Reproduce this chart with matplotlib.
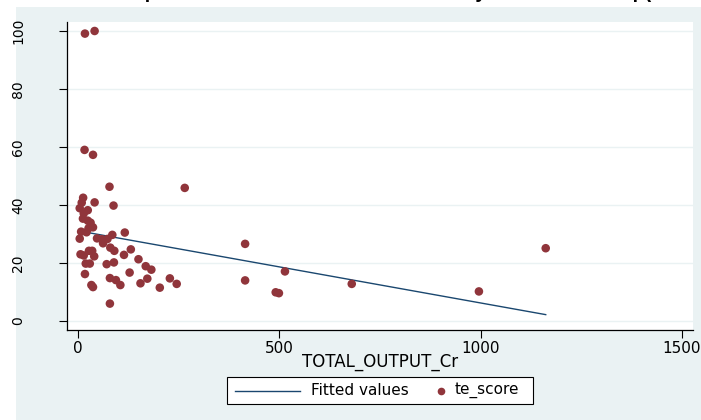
import matplotlib
matplotlib.use("Agg")
import matplotlib.pyplot as plt
from matplotlib.patches import Rectangle
from matplotlib.lines import Line2D

plt.rcParams['font.family'] = ['DejaVu Sans']

# ---- data ----
total_output = [17, 41, 16, 37, 78, 265, 12.5, 9, 41, 88, 4, 24, 14, 12, 24, 31, 37, 26,
                7.5, 21, 116, 85, 4, 47, 59, 73, 62, 80, 90, 131, 6, 27, 35, 14, 40, 114,
                150, 415, 19, 29, 71, 89, 168, 182, 17, 128, 79, 94, 105, 172, 155, 228,
                245, 203, 33, 37, 79, 415, 514, 491, 499, 680, 996, 1162]
te_score = [99.1, 100, 59, 57.3, 46.3, 45.9, 42.5, 40.8, 40.9, 39.8, 38.9, 38.2, 37.1, 35.3,
            34.6, 33.9, 32.3, 32, 30.8, 30.6, 30.5, 29.7, 28.4, 28.5, 28.2, 28.3, 26.8, 25.3,
            24.2, 24.7, 23, 24.2, 24.2, 22.6, 22.3, 22.8, 21.3, 26.6, 19.8, 19.8, 19.6, 20.2,
            18.9, 17.7, 16.2, 16.7, 14.8, 14.1, 12.4, 14.6, 13, 14.7, 12.8, 11.5, 12.4, 11.7,
            6, 14, 17.1, 9.9, 9.6, 12.8, 10.2, 25.1]
fitted_x = [4, 1162]
fitted_y = [31.0, 2.2]

x_ticks = [0, 500, 1000, 1500]
y_ticks = [0, 20, 40, 60, 80, 100]
title_text = "Scatter plot of TE Score and Total Assets by Firm Size Group(Rs Crore)"
x_label = "TOTAL_OUTPUT_Cr"
legend_labels = ["Fitted values", "te_score"]

W, H = 701, 420
BG = '#EAF2F3'
MAROON = '#90353B'
NAVY = '#1A476F'


def fx(px):
    return px / W


def fy(py):
    return 1 - py / H


fig = plt.figure(figsize=(W / 100, H / 100), dpi=100, facecolor='white')
fig.patches.append(Rectangle((16 / W, 0), 1 - 16 / W, (H - 7) / H,
                             transform=fig.transFigure, facecolor=BG,
                             edgecolor='none', zorder=-10))

ax = fig.add_axes([fx(67), fy(330), (693 - 67) / W, (330 - 22) / H])
ax.set_facecolor('white')

ax.plot(fitted_x, fitted_y, color=NAVY, lw=1.0, zorder=3)
ax.scatter(total_output, te_score, s=38, color=MAROON, edgecolors='none', zorder=4)

ax.set_xlim(-27.6, 1528)
ax.set_ylim(-3.1, 103.1)
ax.set_xticks(x_ticks)
ax.set_yticks(y_ticks)
ax.set_xticklabels([str(v) for v in x_ticks], fontsize=11)
ax.set_yticklabels([str(v) for v in y_ticks], fontsize=10, rotation=90, va='center')
ax.tick_params(axis='x', length=6, width=0.8, pad=2)
ax.tick_params(axis='y', length=6, width=0.8, pad=24)
ax.grid(axis='y', color=BG, lw=1.0, zorder=0)
ax.set_axisbelow(True)
for s in ['top', 'right']:
    ax.spines[s].set_visible(False)
for s in ['left', 'bottom']:
    ax.spines[s].set_linewidth(0.9)

fig.text(fx(380), fy(362), x_label, fontsize=12, ha='center', va='center')

# legend box (Stata style)
fig.patches.append(Rectangle((fx(227), fy(404)), (533 - 227) / W, 27 / H,
                             transform=fig.transFigure, facecolor='white',
                             edgecolor='black', lw=0.8, zorder=5))
fig.lines.append(Line2D([fx(235), fx(300)], [fy(390.5), fy(390.5)],
                        transform=fig.transFigure, color=NAVY, lw=1.0, zorder=6))
fig.text(fx(311), fy(390.5), legend_labels[0], fontsize=11, ha='left', va='center',
         zorder=6)
fig.lines.append(Line2D([fx(441)], [fy(390.5)], transform=fig.transFigure,
                        color=MAROON, marker='o', ls='none', markersize=5.5,
                        markeredgewidth=0, zorder=6))
fig.text(fx(455), fy(390.5), legend_labels[1], fontsize=11, ha='left', va='center',
         zorder=6)

fig.text(fx(71.7), 1 + 2.5 / H, title_text, fontsize=14.2, fontweight='bold',
         family='Liberation Sans', ha='left', va='baseline')

fig.savefig('out.png', dpi=100, facecolor=fig.get_facecolor())
